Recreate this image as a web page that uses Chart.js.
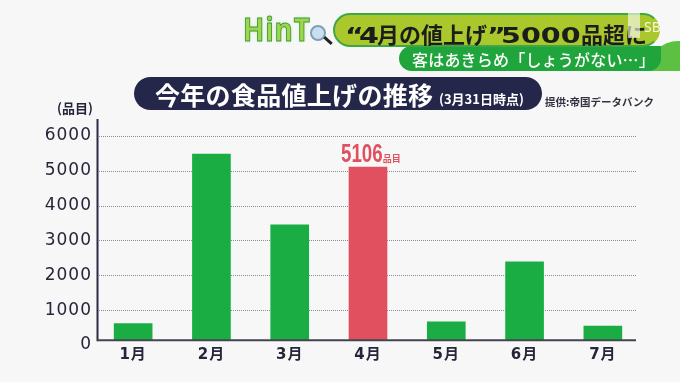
<!DOCTYPE html>
<html lang="ja">
<head>
    <meta charset="UTF-8">
    <title>今年の食品値上げの推移</title>
    <script src="https://cdn.jsdelivr.net/npm/chart.js"></script>
    <style>
        * {
            margin: 0;
            padding: 0;
            box-sizing: border-box;
            font-family: 'Noto Sans CJK JP', sans-serif;
        }

        html, body {
            width: 680px;
            height: 382px;
            overflow: hidden;
            background: #f7f7f8;
        }

        canvas {
            position: absolute;
            left: 0;
            top: 0;
        }

        .abs {
            position: absolute;
            white-space: nowrap;
        }

        /* テロップ */
        .logo {
            left: 243px;
            top: 7px;
            font: bold 32px/44px 'Open Sans', sans-serif;
            letter-spacing: 1px;
            color: #9fd64a;
            -webkit-text-stroke: 1px #3f9a3c;
            text-shadow: 0 0 4px #bfe8b0;
            transform: scaleX(0.87);
            transform-origin: left center;
        }

        .lens {
            left: 310px;
            top: 25px;
            width: 16px;
            height: 16px;
            border-radius: 50%;
            background: #c9dff0;
            border: 2px solid #7f9fb5;
        }

        .lens-handle {
            left: 323px;
            top: 39px;
            width: 10px;
            height: 3px;
            background: #222;
            transform: rotate(42deg);
        }

        .swoosh {
            left: 648px;
            top: 41px;
            width: 32px;
            height: 30px;
            background: #5cc042;
            border-radius: 30px 0 0 0;
        }

        .band2 {
            left: 399px;
            top: 46px;
            width: 262px;
            height: 25px;
            background: #1fa53c;
            border-radius: 13px 0 13px 13px;
        }

        .sub {
            left: 412px;
            top: 46px;
            font-size: 16px;
            line-height: 27px;
            font-weight: 500;
            letter-spacing: 0.2px;
            color: #fff;
        }

        .head {
            left: 333px;
            top: 13px;
            width: 327px;
            height: 34px;
            background: #aac72c;
            border: 2px solid #3fa845;
            border-right-color: #aac72c;
            border-radius: 17px;
        }

        .head-text {
            left: 345px;
            top: 13px;
            font-size: 22px;
            line-height: 40px;
            font-weight: 700;
            color: #1c1c1c;
        }

        /* 数字だけ横に広い書体 */
        .wide {
            display: inline-block;
            font-family: 'DejaVu Sans', sans-serif;
            transform-origin: left center;
            transform: scaleX(1.3);
        }

        .w-q { width: 14px; }
        .w-4 { width: 18px; }
        .w-5000 { width: 80px; }

        .wm {
            left: 628px;
            top: 13px;
            width: 12px;
            height: 25px;
            background: rgba(255, 255, 255, 0.6);
        }

        .wm-text {
            left: 644px;
            top: 17px;
            font: 14px/20px 'Noto Sans', sans-serif;
            color: rgba(255, 255, 255, 0.85);
        }

        /* グラフタイトル */
        .title-bar {
            left: 134px;
            top: 77px;
            width: 408px;
            height: 33px;
            background: #25274a;
            border-radius: 17px;
        }

        .title {
            left: 155px;
            top: 78px;
            font-size: 25px;
            line-height: 32px;
            font-weight: 700;
            letter-spacing: 0.3px;
            color: #fff;
        }

        .title-note {
            left: 439px;
            top: 84px;
            font-size: 13px;
            line-height: 30px;
            font-weight: 700;
            color: #fff;
        }

        .source {
            left: 545px;
            top: 93px;
            font-size: 10.5px;
            line-height: 18px;
            font-weight: 700;
            color: #33333f;
        }

        .unit {
            left: 57px;
            top: 98px;
            font-size: 13px;
            line-height: 19px;
            font-weight: 700;
            color: #26263a;
        }
    </style>
</head>
<body>

    <canvas id="myChart" width="680" height="382"></canvas>

    <div class="abs logo">HinT</div>
    <div class="abs lens"></div>
    <div class="abs lens-handle"></div>
    <div class="abs swoosh"></div>
    <div class="abs band2"></div>
    <div class="abs sub">客はあきらめ「しょうがない…」</div>
    <div class="abs head"></div>
    <div class="abs head-text"><span class="wide w-q">“</span><span class="wide w-4">4</span>月の値上げ<span class="wide w-q">”</span><span class="wide w-5000">5000</span>品超に</div>
    <div class="abs wm"></div>
    <div class="abs wm-text">SB</div>

    <div class="abs title-bar"></div>
    <div class="abs title">今年の食品値上げの推移</div>
    <div class="abs title-note">(3月31日時点)</div>
    <div class="abs source">提供:帝国データバンク</div>
    <div class="abs unit">(品目)</div>

    <script>
        const months = ["1月", "2月", "3月", "4月", "5月", "6月", "7月"];
        const items = [618, 5483, 3451, 5106, 664, 2388, 540];
        const barColors = ["#19ad44", "#19ad44", "#19ad44", "#e0505f", "#19ad44", "#19ad44", "#19ad44"];
        const yTicks = [0, 1000, 2000, 3000, 4000, 5000, 6000];
        const highlightIndex = 3;
        const highlightUnit = "品目";

        // 元の図は0の目盛りより少し上で棒と横軸が切れている
        const baseValue = 138;
        const axisTop = 6488;

        const axisPlugin = {
            id: "axisPlugin",
            beforeDraw(chart) {
                chart.ctx.letterSpacing = "1px";
            },
            beforeDatasetsDraw(chart) {
                const ctx = chart.ctx;
                const y = chart.scales.y;
                ctx.save();
                ctx.strokeStyle = "#8c8c90";
                ctx.lineWidth = 1;
                ctx.setLineDash([1, 1]);
                yTicks.slice(1).forEach(function (t) {
                    const py = Math.round(y.getPixelForValue(t)) + 0.5;
                    ctx.beginPath();
                    ctx.moveTo(99, py);
                    ctx.lineTo(637, py);
                    ctx.stroke();
                });
                ctx.restore();
            },
            afterDatasetsDraw(chart) {
                const ctx = chart.ctx;
                const y = chart.scales.y;
                const floor = y.getPixelForValue(baseValue);

                ctx.save();
                ctx.letterSpacing = "0px";
                ctx.lineWidth = 2;
                ctx.strokeStyle = "#2a2a45";
                ctx.beginPath();
                ctx.moveTo(97.5, y.getPixelForValue(axisTop));
                ctx.lineTo(97.5, floor + 1);
                ctx.stroke();
                ctx.strokeStyle = "#44444f";
                ctx.beginPath();
                ctx.moveTo(97, floor);
                ctx.lineTo(636, floor);
                ctx.stroke();

                // 4月のラベル
                const bar = chart.getDatasetMeta(0).data[highlightIndex];
                const text = String(items[highlightIndex]);
                const labelX = bar.x - 27;
                const squeeze = 0.72;
                ctx.fillStyle = "#e0505f";
                ctx.textBaseline = "alphabetic";
                ctx.textAlign = "left";
                ctx.font = "bold 26px 'Liberation Sans'";
                const w = ctx.measureText(text).width * squeeze;
                ctx.save();
                ctx.translate(labelX, 162);
                ctx.scale(squeeze, 1);
                ctx.fillText(text, 0, 0);
                ctx.restore();
                ctx.font = "bold 9px 'Noto Sans CJK JP'";
                ctx.fillText(highlightUnit, labelX + w, 162);
                ctx.restore();
            }
        };

        new Chart(document.getElementById("myChart").getContext("2d"), {
            type: "bar",
            data: {
                labels: months,
                datasets: [
                    {
                        data: items,
                        backgroundColor: barColors,
                        barThickness: 38,
                        base: baseValue
                    }
                ]
            },
            plugins: [axisPlugin],
            options: {
                responsive: false,
                animation: false,
                layout: {
                    padding: { left: 0, right: 38, top: 119, bottom: 37 }
                },
                plugins: {
                    legend: { display: false },
                    tooltip: { enabled: false }
                },
                scales: {
                    x: {
                        position: { y: baseValue },
                        grid: { display: false, drawTicks: false },
                        border: { display: false },
                        ticks: {
                            color: "#26263a",
                            padding: 6,
                            font: { family: "'DejaVu Sans', 'Noto Sans CJK JP'", size: 15, weight: "bold" }
                        }
                    },
                    y: {
                        min: 0,
                        max: axisTop,
                        afterBuildTicks(scale) {
                            scale.ticks = yTicks.map(function (v) { return { value: v }; });
                        },
                        afterFit(scale) {
                            scale.width = 94;
                        },
                        grid: { display: false, drawTicks: false },
                        border: { display: false },
                        ticks: {
                            color: "#26263a",
                            padding: 2,
                            autoSkip: false,
                            font: { family: "'DejaVu Sans'", size: 17 },
                            callback: function (v) { return String(v); }
                        }
                    }
                }
            }
        });
    </script>

</body>
</html>
